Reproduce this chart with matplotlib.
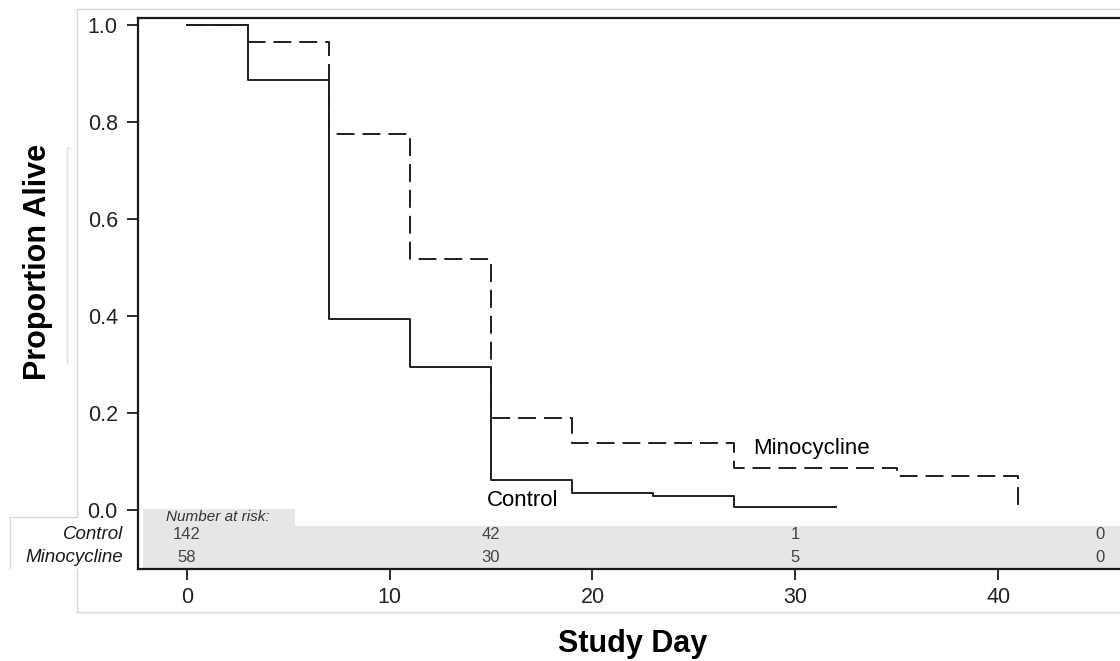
import matplotlib
matplotlib.use("Agg")
import matplotlib.pyplot as plt
from matplotlib.patches import Rectangle
from matplotlib.lines import Line2D

plt.rcParams['font.family'] = ['Liberation Sans', 'DejaVu Sans']

# ---- data ----
control_days = [0, 3, 7, 11, 15, 19, 23, 27, 32]
control_surv = [1.0, 0.887, 0.394, 0.296, 0.063, 0.035, 0.028, 0.007, 0.007]
mino_days = [0, 3, 7, 11, 15, 19, 27, 35, 41]
mino_surv = [1.0, 0.966, 0.776, 0.517, 0.190, 0.138, 0.087, 0.071, 0.0]

risk_days = [0, 15, 30, 45]
risk_control = [142, 42, 1, 0]
risk_mino = [58, 30, 5, 0]
group_labels = ["Control", "Minocycline"]

x_ticks = [0, 10, 20, 30, 40]
y_ticks = [0.0, 0.2, 0.4, 0.6, 0.8, 1.0]

W, H = 1120, 661
fig = plt.figure(figsize=(W / 100, H / 100), dpi=100)


def fx(px):
    return px / W


def fy(py):
    return 1 - py / H


# axes placement (pixels): left 138, right 1125, top 17.7, bottom 569
ax = fig.add_axes([fx(138), fy(569), fx(1125) - fx(138), fy(17.7) - fy(569)])
ax.set_xlim(-2.40, 46.25)
ax.set_ylim(-0.1216, 1.0155)

ink = '#1e1e1e'
lw = 1.4
ax.step(control_days, control_surv, where='post', color=ink, lw=lw, zorder=3)
ax.step(mino_days, mino_surv, where='post', color=ink, lw=lw,
        linestyle=(0, (9.2, 4.1)), zorder=3)

ax.text(14.8, 0.02, "Control", fontsize=16, ha='left', va='center', color='black')
ax.text(27.9, 0.126, "Minocycline", fontsize=16, ha='left', va='center', color='black')

# number at risk table
band = '#e6e6e6'
ax.add_patch(Rectangle((-2.15, -0.1216), 50, 0.1216 - 0.033, facecolor=band,
                       edgecolor='none', zorder=1))
ax.add_patch(Rectangle((-2.15, -0.033), 7.48, 0.035, facecolor=band,
                       edgecolor='none', zorder=1))
ax.text(-1.0, -0.0145, "Number at risk:", fontsize=11, style='italic',
        color='#333333', ha='left', va='center', zorder=2)
row_y = [-0.0495, -0.097]
for d, c, m in zip(risk_days, risk_control, risk_mino):
    ax.text(d, row_y[0], str(c), fontsize=12, color='#444444', ha='center',
            va='center', zorder=2)
    ax.text(d, row_y[1], str(m), fontsize=12, color='#444444', ha='center',
            va='center', zorder=2)
for lab, yy in zip(group_labels, row_y):
    ax.text(-3.15, yy, lab, fontsize=13.5, style='italic', color='#1a1a1a',
            ha='right', va='center', clip_on=False, zorder=5)

# spines and ticks
for s in ['top', 'left', 'bottom']:
    ax.spines[s].set_linewidth(1.6)
    ax.spines[s].set_color('#1a1a1a')
ax.spines['right'].set_visible(False)
ax.set_xticks(x_ticks)
ax.set_xticklabels([str(t) for t in x_ticks])
ax.set_yticks(y_ticks)
ax.set_yticklabels([f"{t:.1f}" for t in y_ticks])
ax.tick_params(axis='both', direction='out', length=8, width=1.3,
               labelsize=15.5, labelcolor='#222222', color='#1a1a1a')
ax.tick_params(axis='y', pad=6.5)
ax.tick_params(axis='x', pad=5)

# axis titles
fig.text(fx(38), fy(262), "Proportion Alive", rotation=90, fontsize=22,
         fontweight='bold', ha='center', va='center')
fig.text(fx(633), fy(644), "Study Day", fontsize=22, fontweight='bold',
         ha='center', va='center')

# light frame decorations
fc = '#d6d6d6'


def fline(xs, ys, color=fc, lw=1.0, z=-2):
    fig.add_artist(Line2D([fx(v) for v in xs], [fy(v) for v in ys],
                          transform=fig.transFigure, color=color, lw=lw,
                          zorder=z))


fline([77, 1125], [9, 9])
fline([77, 77], [9, 517])
fline([77, 77], [569, 612])
fline([77, 1125], [612, 612])
fline([10, 77], [517, 517])
fline([10, 10], [517, 568])
fline([67, 67], [148, 363], color='#dddddd')
fline([67, 70], [148, 148], color='#dddddd')

fig.savefig("out.png", dpi=100)
